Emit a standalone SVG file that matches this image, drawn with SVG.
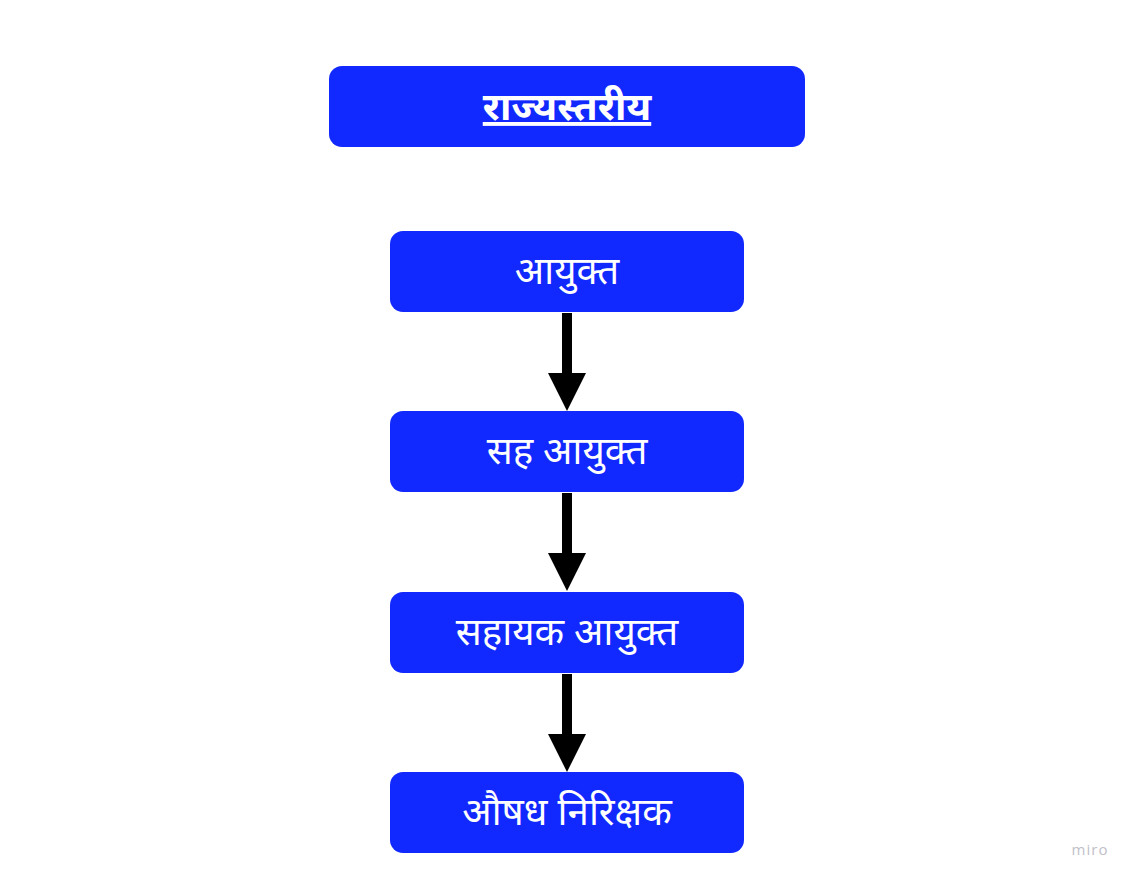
<svg xmlns="http://www.w3.org/2000/svg" width="1133" height="881" viewBox="0 0 1133 881">
<style>
.box{fill:#1128ff}
.lbl{fill:#ffffff;font-family:"Noto Sans","Noto Sans Devanagari","Lohit Devanagari","Mukta",sans-serif;font-size:38.5px;font-weight:400;text-anchor:middle}
.title{font-weight:700;font-size:39px;text-decoration:underline}
.shaft{stroke:#000;stroke-width:10;fill:none}
</style>
<defs>
<marker id="ah" markerUnits="userSpaceOnUse" markerWidth="40" markerHeight="40" viewBox="0 0 40 40" refX="0" refY="20" orient="auto">
<path d="M0,1 L38,20 L0,39 Z" fill="#000"/>
</marker>
</defs>
<rect width="1133" height="881" fill="#fff"/>
<g id="title"><rect class="box" x="329" y="66" width="476" height="81" rx="13"/><text class="lbl title" x="567" y="120">राज्यस्तरीय</text></g>
<g id="n1"><rect class="box" x="390" y="231" width="354" height="81" rx="13"/><text class="lbl" x="567" y="284">आयुक्त</text></g>
<g id="n2"><rect class="box" x="390" y="411" width="354" height="81" rx="13"/><text class="lbl" x="567" y="464">सह आयुक्त</text></g>
<g id="n3"><rect class="box" x="390" y="592" width="354" height="81" rx="13"/><text class="lbl" x="567" y="645">सहायक आयुक्त</text></g>
<g id="n4"><rect class="box" x="390" y="772" width="354" height="81" rx="13"/><text class="lbl" x="567" y="825">औषध निरिक्षक</text></g>
<g id="connectors">
<line class="shaft" x1="567" y1="313" x2="567" y2="373" marker-end="url(#ah)"/>
<line class="shaft" x1="567" y1="493" x2="567" y2="553" marker-end="url(#ah)"/>
<line class="shaft" x1="567" y1="674" x2="567" y2="734" marker-end="url(#ah)"/>
</g>
<text x="1090" y="855" font-family="'Open Sans',sans-serif" font-size="15" fill="#c0c0c8" text-anchor="middle" letter-spacing="1">miro</text>
</svg>
